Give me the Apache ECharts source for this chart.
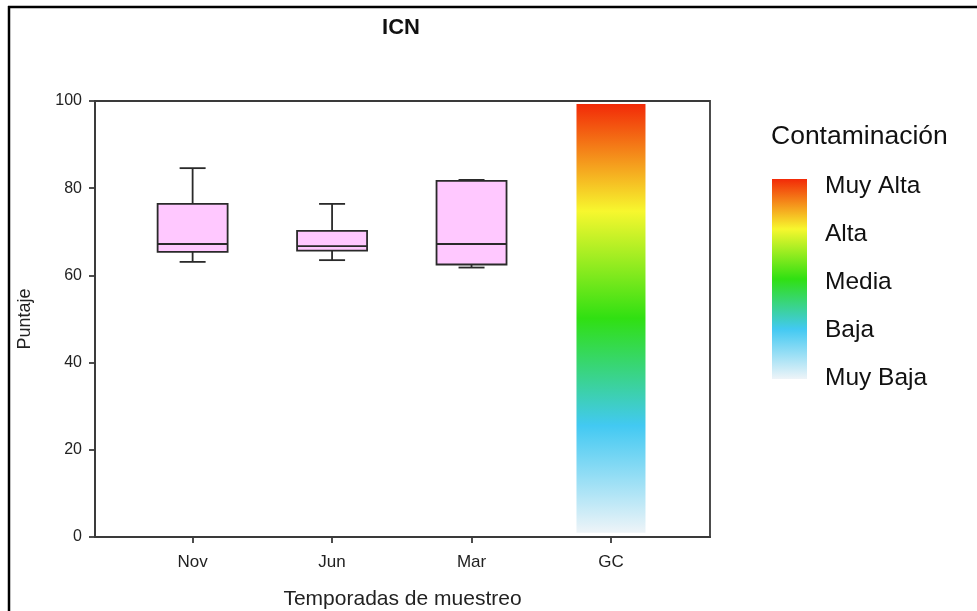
<!DOCTYPE html>
<html>
<head>
<meta charset="utf-8">
<script src="https://cdn.jsdelivr.net/npm/echarts@6/dist/echarts.min.js"></script>
<style>html,body{margin:0;padding:0;background:#fff}#c{width:977px;height:611px}</style>
</head>
<body>
<div id="c"></div>
<script>
// ---- data ----
var categories = ['Nov', 'Jun', 'Mar', 'GC'];
// [low whisker, Q1, median, Q3, high whisker]
var boxNov = [63.1, 65.4, 67.2, 76.4, 84.6];
var boxJun = [63.5, 65.7, 66.7, 70.2, 76.4];
var boxMar = [61.8, 62.5, 67.2, 81.7, 81.9];
var gcRange = [1, 99.3];
var yTicks = [0, 20, 40, 60, 80, 100];
var legendTitle = 'Contaminación';
var legendLabels = ['Muy Alta', 'Alta', 'Media', 'Baja', 'Muy Baja'];
var gradStops = ['#F22A08', '#F7F72E', '#30E012', '#42C9F2', '#EEF4F8'];

var boxData = [[0].concat(boxNov), [1].concat(boxJun), [2].concat(boxMar)];
var gcData = [[3, gcRange[0], gcRange[1]]];

function grad() {
  return new echarts.graphic.LinearGradient(0, 0, 0, 1, gradStops.map(function (c, i) {
    return { offset: i / (gradStops.length - 1), color: c };
  }));
}

var chart = echarts.init(document.getElementById('c'), null, { renderer: 'canvas' });

var legendGraphics = [
  { type: 'text', x: 771, y: 137, style: { text: legendTitle, font: '26.5px Arial', fill: '#111', verticalAlign: 'middle' } },
  { type: 'rect', shape: { x: 772, y: 179, width: 35, height: 200 }, style: { fill: grad() } }
];
legendLabels.forEach(function (t, i) {
  legendGraphics.push({ type: 'text', x: 825, y: 186 + i * 48, style: { text: t, font: '24.5px Arial', fill: '#111', verticalAlign: 'middle' } });
});

var option = {
  animation: false,
  backgroundColor: '#fff',
  title: {
    text: 'ICN', left: 396, top: 12, textAlign: 'center',
    textStyle: { fontFamily: 'Arial', fontSize: 22, fontWeight: 'bold', color: '#111' }
  },
  grid: { left: 95, right: 267, top: 101, bottom: 74, show: true, borderColor: '#3a3a3a', borderWidth: 1.8, backgroundColor: 'transparent', outerBoundsMode: 'none', containLabel: false },
  xAxis: {
    type: 'value', min: -0.7, max: 3.71,
    name: 'Temporadas de muestreo', nameLocation: 'middle', nameGap: 52,
    nameTextStyle: { fontFamily: 'Arial', fontSize: 21, color: '#222' },
    axisLine: { show: true, onZero: false, lineStyle: { color: '#3a3a3a', width: 1.8 } },
    axisTick: { show: true, customValues: [0, 1, 2, 3], length: 6, lineStyle: { color: '#3a3a3a', width: 1.8 } },
    axisLabel: { customValues: [0, 1, 2, 3], formatter: function (v) { return categories[Math.round(v)]; }, fontFamily: 'Arial', fontSize: 17, color: '#222', margin: 17 },
    splitLine: { show: false }
  },
  yAxis: {
    type: 'value', min: 0, max: 100, interval: 20,
    name: 'Puntaje', nameLocation: 'middle', nameGap: 61, nameRotate: 90,
    nameTextStyle: { fontFamily: 'Arial', fontSize: 18, color: '#222' },
    axisLine: { show: true, onZero: false, lineStyle: { color: '#3a3a3a', width: 1.8 } },
    axisTick: { show: true, length: 6, lineStyle: { color: '#3a3a3a', width: 1.8 } },
    axisLabel: { fontFamily: 'Arial', fontSize: 16, color: '#222', margin: 13,
      formatter: function (v) { return yTicks.indexOf(v) >= 0 ? String(v) : ''; } },
    splitLine: { show: false }
  },
  series: [
    {
      type: 'custom', data: gcData, z: 2, clip: false,
      renderItem: function (params, api) {
        var x = api.value(0);
        var p1 = api.coord([x, api.value(2)]);
        var p0 = api.coord([x, api.value(1)]);
        var w = 69;
        return { type: 'rect', shape: { x: p1[0] - w / 2, y: p1[1], width: w, height: p0[1] - p1[1] }, style: { fill: grad() } };
      }
    },
    {
      type: 'custom', data: boxData, z: 3, clip: false,
      renderItem: function (params, api) {
        var x = api.value(0);
        var lo = api.coord([x, api.value(1)]);
        var q1 = api.coord([x, api.value(2)]);
        var md = api.coord([x, api.value(3)]);
        var q3 = api.coord([x, api.value(4)]);
        var hi = api.coord([x, api.value(5)]);
        var cx = lo[0], bw = 70, cw = 26;
        var ls = { stroke: '#2a2a2a', lineWidth: 1.8, fill: null };
        return {
          type: 'group',
          children: [
            { type: 'line', shape: { x1: cx, y1: hi[1], x2: cx, y2: q3[1] }, style: ls },
            { type: 'line', shape: { x1: cx, y1: q1[1], x2: cx, y2: lo[1] }, style: ls },
            { type: 'line', shape: { x1: cx - cw / 2, y1: hi[1], x2: cx + cw / 2, y2: hi[1] }, style: ls },
            { type: 'line', shape: { x1: cx - cw / 2, y1: lo[1], x2: cx + cw / 2, y2: lo[1] }, style: ls },
            { type: 'rect', shape: { x: cx - bw / 2, y: q3[1], width: bw, height: q1[1] - q3[1] }, style: { fill: '#FFC8FF', stroke: '#2a2a2a', lineWidth: 1.8 } },
            { type: 'line', shape: { x1: cx - bw / 2, y1: md[1], x2: cx + bw / 2, y2: md[1] }, style: ls }
          ]
        };
      }
    }
  ],
  graphic: [
    { type: 'line', shape: { x1: 8, y1: 7, x2: 977, y2: 7 }, style: { stroke: '#000', lineWidth: 2.5 } },
    { type: 'line', shape: { x1: 9, y1: 6, x2: 9, y2: 611 }, style: { stroke: '#000', lineWidth: 2.5 } }
  ].concat(legendGraphics)
};
chart.setOption(option);
</script>
</body>
</html>
